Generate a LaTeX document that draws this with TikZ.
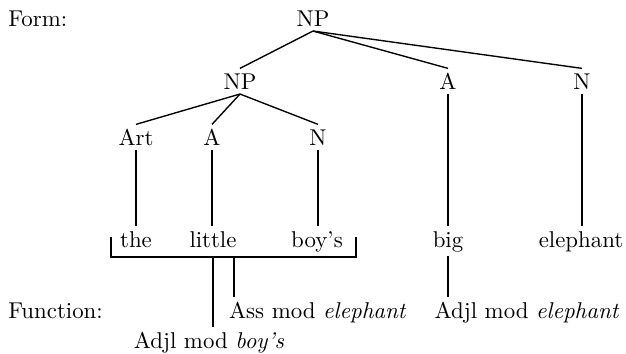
\documentclass[tikz,border=0pt]{standalone}
\begin{document}
\begin{tikzpicture}[x=0.4376pt,y=-0.4376pt,
  lab/.style={inner sep=2pt,text height=6.83pt,text depth=0pt,anchor=base},
  word/.style={inner sep=2pt,text height=6.94pt,text depth=1.94pt,anchor=base},
  txt/.style={inner sep=2pt,anchor=base west},
  fn/.style={inner sep=2pt,text height=6.83pt,text depth=1.94pt},
  edge/.style={line width=0.6pt}]
\useasboundingbox (0,0) rectangle (626,353);
% labels
\node[txt] (form) at (3.4,26) {Form:};
\node[txt] (function) at (3.4,318) {Function:};
% tree
\node[lab] (np0) at (313,26) {NP};
\node[lab] (np1) at (240,89) {NP};
\node[lab] (a1) at (448,89) {A};
\node[lab] (n1) at (582,89) {N};
\node[lab] (art) at (136,145) {Art};
\node[lab] (a2) at (212,145) {A};
\node[lab] (n2) at (318,145) {N};
% words
\node[word] (the) at (136,247) {the};
\node[word] (little) at (213,247) {little};
\node[word] (boys) at (317,247) {boy's};
\node[word] (big) at (448,247) {big};
\node[word] (eleph) at (581,247) {elephant};
% functions
\node[fn,anchor=base west] (ass) at (224,318) {Ass mod \emph{elephant}};
\node[fn,anchor=base] (adjl1) at (209,348) {Adjl mod \emph{boy's}};
\node[fn,anchor=base] (adjl2) at (527,318) {Adjl mod \emph{elephant}};
% tree edges
\draw[edge] (np0.south) -- (np1.north);
\draw[edge] (np0.south) -- (a1.north);
\draw[edge] (np0.south) -- (n1.north);
\draw[edge] (np1.south) -- (art.north);
\draw[edge] (np1.south) -- (a2.north);
\draw[edge] (np1.south) -- (n2.north);
\draw[edge] (art.south) -- (art.south |- the.north);
\draw[edge] (a2.south) -- (a2.south |- little.north);
\draw[edge] (n2.south) -- (n2.south |- boys.north);
\draw[edge] (a1.south) -- (a1.south |- big.north);
\draw[edge] (n1.south) -- (n1.south |- eleph.north);
% bracket
\coordinate (bl) at (111,237);
\coordinate (br) at (356,237);
\coordinate (bbl) at (111,257);
\coordinate (bbr) at (356,257);
\draw[edge] (bl) -- (bbl) -- (bbr) -- (br);
% function edges
\coordinate (asstop) at (234,257);
\draw[edge] (little.south) -- (little.south |- adjl1.north);
\draw[edge] (asstop) -- (asstop |- ass.north);
\draw[edge] (big.south) -- (big.south |- adjl2.north);
\end{tikzpicture}
\end{document}
